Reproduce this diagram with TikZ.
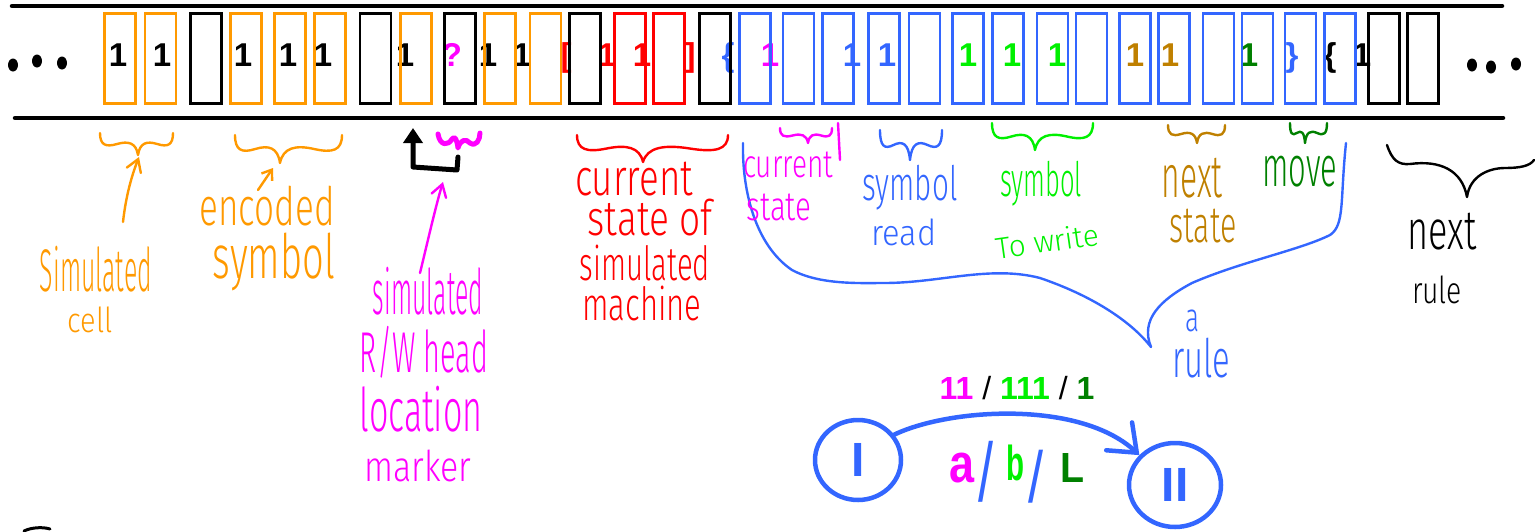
\documentclass[tikz,border=0pt]{standalone}
\usepackage{graphicx}
\usepackage{fontspec}
\setmainfont{Liberation Sans}
\newfontfamily\handf{Fira Sans}[UprightFont={* Light}]
\usetikzlibrary{arrows.meta,shapes.geometric}
\definecolor{tor}{RGB}{255,153,0}
\definecolor{tbl}{RGB}{51,102,255}
\definecolor{tmg}{RGB}{255,0,255}
\definecolor{tgr}{RGB}{0,240,0}
\definecolor{tdg}{RGB}{0,128,0}
\definecolor{tbr}{RGB}{191,128,0}
\definecolor{trd}{RGB}{255,0,0}
% handwritten-like label fitted to an ink box
\newcommand\hw[7]{\node[hand=#6] (#1) at (#2,#3) {\resizebox*{#4pt}{#5pt}{\handf #7}};}
% hand drawn under-brace: colour, xLeft, xTip, xRight, yTop, yTip
\newcommand\ubr[6]{%
 \draw[hline=#1] (#2,#5) .. controls (#2,{#5+0.55*(#6-#5)}) and ({#2+0.15*(#3-#2)},{#5+0.65*(#6-#5)}) .. ({#2+0.45*(#3-#2)},{#5+0.5*(#6-#5)})
 .. controls ({#2+0.75*(#3-#2)},{#5+0.35*(#6-#5)}) and ({#3-0.05*(#3-#2)},{#5+0.45*(#6-#5)}) .. (#3,#6)
 .. controls ({#3+0.05*(#4-#3)},{#5+0.45*(#6-#5)}) and ({#3+0.25*(#4-#3)},{#5+0.35*(#6-#5)}) .. ({#3+0.55*(#4-#3)},{#5+0.5*(#6-#5)})
 .. controls ({#4-0.15*(#4-#3)},{#5+0.65*(#6-#5)}) and (#4,{#5+0.55*(#6-#5)}) .. (#4,#5);}
\begin{document}
\begin{tikzpicture}[x=1pt,y=-1pt,
  cellbox/.style={draw=#1, line width=2.6pt, minimum width=31pt, minimum height=90pt, inner sep=0pt},
  sym/.style={font=\fontsize{33}{33}\selectfont\bfseries, inner sep=0pt, anchor=base, text=#1},
  hand/.style={inner sep=0pt, text=#1},
  hline/.style={draw=#1, line width=2.4pt, line cap=round, line join=round},
  harrow/.style={hline=#1, -{Straight Barb[length=12pt,width=15pt,line cap=round]}},
  state/.style={draw=tbl, line width=4.5pt, ellipse, inner sep=0pt, text=tbl, font=\fontsize{48}{48}\selectfont\bfseries},
]
\useasboundingbox (0,0) rectangle (1535,531);

% tape borders
\draw[line width=4.5pt, line cap=round] (12,6) -- (1502,6);
\draw[line width=4.5pt, line cap=round] (15,118) -- (1503,118);

% ellipsis dots
\foreach \dx/\dy in {13/65,37/61,62/63,1472/65,1491/67,1516/64}
  \fill (\dx,\dy) ellipse [x radius=5pt, y radius=6.5pt];

% symbols written on the tape
\foreach \sx/\st/\sc [count=\k] in {118/1/black,162/1/black,243/1/black,288/1/black,323/1/black,405/1/black,452/?/tmg,488/1/black,522/1/black,
  566/[/trd,607/1/trd,642/1/trd,690/]/trd,
  728/\{/tbl,770/1/tmg,852/1/tbl,887/1/tbl,968/1/tgr,1012/1/tgr,1057/1/tgr,1135/1/tbr,1170/1/tbr,1249/1/tdg,1292/\}/tbl,1330/\{/black,1362/1/black}
  \node[sym=\sc] (s\k) at (\sx,66) {\st};

% tape cells
\foreach \cx/\col [count=\i] in {120/tor,160.5/tor,206/black,246/tor,290/tor,330/tor,375.5/black,416/tor,460/black,500/tor,545.5/tor,585/black,
  630/trd,669/trd,715/black,755/tbl,798.5/tbl,838/tbl,884/tbl,924.5/tbl,968/tbl,1008/tbl,1052.5/tbl,1091.5/tbl,1135/tbl,1174/tbl,1218.5/tbl,1257.5/tbl,1300.5/tbl,1340/tbl,1384/black,1423/black}
  \node[cellbox=\col] (c\i) at (\cx,58.5) {};

% braces under the tape
\ubr{tor}{100}{138}{173}{133}{155}
\ubr{tor}{235}{280}{342}{135}{163}
\draw[tmg, line width=5pt, line cap=round, line join=round] (438,134) .. controls (440,146) and (448,146) .. (452,139) .. controls (455,135) and (457,140) .. (458,148) .. controls (460,140) and (466,138) .. (470,143) .. controls (476,147) and (480,140) .. (480,133);
\ubr{trd}{577}{643}{728}{135}{162}
\ubr{tmg}{780}{808}{832}{128}{143}
\draw[hline=tmg] (838,123) -- (840,160);
\ubr{tbl}{880}{910}{942}{130}{160}
\ubr{tgr}{992}{1035}{1093}{123}{150}
\ubr{tbr}{1168}{1197}{1225}{125}{143}
\ubr{tdg}{1290}{1305}{1327}{123}{143}
\draw[hline=black] (1387,145) .. controls (1392,160) and (1398,165) .. (1410,164) .. controls (1440,160) and (1462,170) .. (1467,197) .. controls (1470,175) and (1490,168) .. (1505,168) .. controls (1520,168) and (1530,166) .. (1534,160);

% the big brace of a rule
\draw[hline=tbl] (743,143) .. controls (742,190) and (755,245) .. (792,270) .. controls (820,285) and (860,283) .. (884,283)
  .. controls (940,283) and (990,265) .. (1040,278) .. controls (1090,295) and (1130,320) .. (1151,347)
  .. controls (1140,320) and (1160,300) .. (1192,283) .. controls (1240,262) and (1300,250) .. (1330,235)
  .. controls (1345,225) and (1340,200) .. (1346,143);

% labels
\hw{lSim}{96}{269}{112}{46}{tor}{Simulated}
\hw{lCell}{90}{320}{45}{26}{tor}{cell}
\hw{lEnc}{267}{206}{135}{40}{tor}{encoded}
\hw{lSym}{274}{262}{122}{58}{tor}{symbol}
\hw{mSim}{428}{291}{110}{48}{tmg}{simulated}
\hw{mRW}{424}{352}{128}{52}{tmg}{R/W head}
\hw{mLoc}{421}{409}{123}{46}{tmg}{location}
\hw{mMark}{418}{466}{107}{32}{tmg}{marker}
\hw{rCur}{634}{179}{118}{34}{trd}{current}
\hw{rState}{650}{218}{125}{37}{trd}{state of}
\hw{rSim}{645}{263}{130}{36}{trd}{simulated}
\hw{rMach}{642}{303}{119}{35}{trd}{machine}
\hw{cCur}{788}{165}{90}{26}{tmg}{current}
\hw{cState}{779}{207}{65}{27}{tmg}{state}
\hw{bSym}{910}{188}{95}{45}{tbl}{symbol}
\hw{bRead}{904}{232}{65}{27}{tbl}{read}
\hw{gSym}{1041}{184}{82}{45}{tgr}{symbol}
\node[hand=tgr, rotate=8] (gWrite) at (1047,241) {\resizebox*{104pt}{23pt}{\handf To write}};
\hw{nNext}{1192}{178}{61}{40}{tbr}{next}
\hw{nState}{1203}{226}{67}{34}{tbr}{state}
\hw{mvMove}{1300}{172}{75}{31}{tdg}{move}
\hw{aA}{1192}{321}{14}{22}{tbl}{a}
\hw{aRule}{1201}{358}{58}{40}{tbl}{rule}
\hw{kNext}{1442}{232}{69}{37}{black}{next}
\hw{kRule}{1437}{290}{50}{28}{black}{rule}

% pointer arrows
\coordinate (oA) at (123,222); \coordinate (tA) at (139,157);
\draw[harrow=tor] (oA) .. controls (126,195) and (132,175) .. (tA);
\coordinate (oB) at (258,190); \coordinate (tB) at (273,168);
\draw[-{Straight Barb[length=9pt,width=13pt]}, hline=tor] (oB) -- (tB);
\coordinate (oC) at (420,273); \coordinate (tC) at (443,182);
\draw[harrow=tmg] (oC) .. controls (428,240) and (436,205) .. (tC);
\coordinate (hm) at (458,157); \coordinate (hh) at (413,128);
\draw[line width=5pt, line join=round, line cap=round, -{Triangle[length=15pt,width=19pt]}] (hm) -- (457,170) -- (413,167) -- (hh);

% state diagram
\node[state, minimum width=86pt, minimum height=80pt] (sI) at (858,460) {I};
\node[state, minimum width=92pt, minimum height=84pt] (sII) at (1175,485) {II};
\draw[line width=4.5pt, tbl, line cap=round, -{Straight Barb[length=24pt,width=38pt,line cap=round]}] (sI.35) .. controls (950,408) and (1080,400) .. (sII.140);
\node[anchor=base, inner sep=0pt, font=\fontsize{32}{32}\selectfont\bfseries] (lab) at (1017,399) {\textcolor{tmg}{11} {\mdseries /} \textcolor{tgr}{111} {\mdseries /} \textcolor{tdg}{1}};
\node[hand=tmg] (ea) at (962,468) {\resizebox*{25pt}{30pt}{\bfseries a}};
\node[hand=tbl] (es1) at (986,472) {\resizebox*{15pt}{61pt}{/}};
\node[hand=tgr] (eb) at (1015,463) {\resizebox*{18pt}{36pt}{\bfseries b}};
\node[hand=tbl] (es2) at (1036,477) {\resizebox*{15pt}{53pt}{/}};
\node[hand=tdg] (eL) at (1072,468) {\resizebox*{24pt}{29pt}{\bfseries L}};

% stray stroke at the lower left
\draw[line width=3pt, line cap=round] (24,531) .. controls (32,527) and (44,527) .. (50,529);
\end{tikzpicture}
\end{document}
